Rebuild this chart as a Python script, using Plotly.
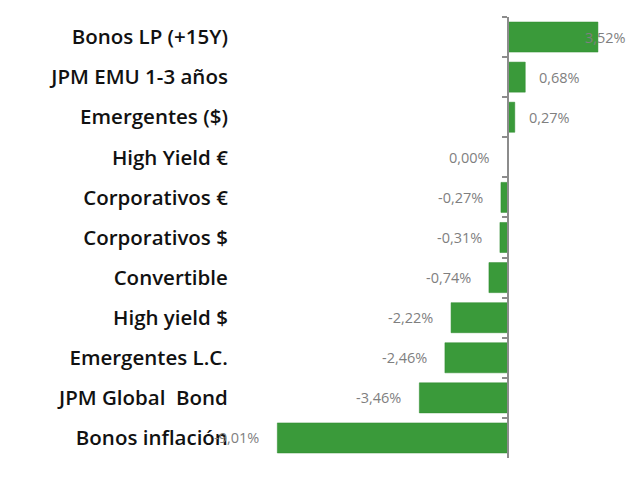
import plotly.graph_objects as go

categorias = ['Bonos LP (+15Y)', 'JPM EMU 1-3 años', 'Emergentes ($)', 'High Yield €',
              'Corporativos €', 'Corporativos $', 'Convertible', 'High yield $',
              'Emergentes L.C.', 'JPM Global  Bond', 'Bonos inflación']
rentab = [3.52, 0.68, 0.27, 0.00, -0.27, -0.31, -0.74, -2.22, -2.46, -3.46, -9.01]

verde = '#3A9A3A'
gris = '#8C8C8C'

def fmt(v):
    return f'{v:.2f}'.replace('.', ',') + '%'

fig = go.Figure()
fig.add_trace(go.Bar(x=rentab, y=categorias, orientation='h',
                     marker=dict(color=verde, line=dict(color='#2F8A2F', width=0.5))))

# etiquetas de datos, al estilo Excel
for i, (c, v) in enumerate(zip(categorias, rentab)):
    if i == 0:
        anchor, shift = 'left', -15
    elif v > 0:
        anchor, shift = 'left', 12
    else:
        anchor, shift = 'right', -16
    fig.add_annotation(x=v, y=c, text=fmt(v), showarrow=False, xanchor=anchor,
                       xshift=shift, font=dict(family='Open Sans', size=14.5, color='#7F7F7F'))

# la página tiene 8px de margen en el body
fig.update_layout(
    width=640, height=480, plot_bgcolor='white', paper_bgcolor='white',
    margin=dict(l=244, r=25, t=9, b=30, autoexpand=False), showlegend=False, bargap=0.25,
    xaxis=dict(range=[-10, 4.5], visible=False, zeroline=False),
    yaxis=dict(autorange='reversed', anchor='free', position=256/371, automargin=False,
               showline=True, linecolor=gris, linewidth=2,
               ticks='outside', tickson='boundaries', ticklen=5, tickcolor=gris, tickwidth=2,
               ticklabelstandoff=275, showgrid=False,
               tickfont=dict(family='Open Sans', size=20.5, color='#111111', weight=600)),
)

fig.write_html('out.html')
